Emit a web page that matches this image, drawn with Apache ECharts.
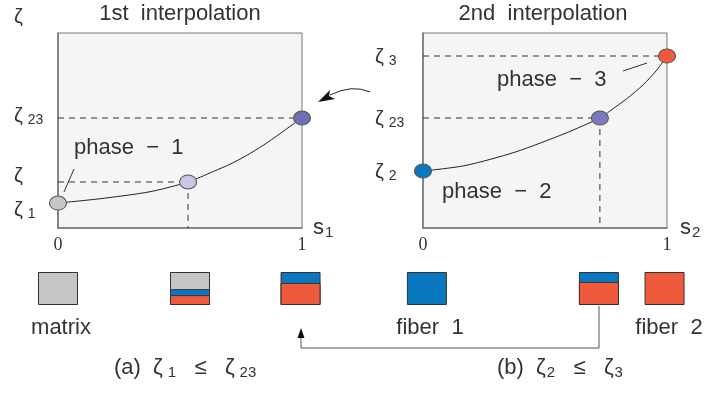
<!DOCTYPE html>
<html style="height: 100%">
<head>
    <meta charset="utf-8">
</head>
<body style="height: 100%; margin: 0; background: #fff">
    <div id="container" style="width: 705px; height: 396px"></div>
    <script src="https://cdn.jsdelivr.net/npm/echarts@6.0.0/dist/echarts.min.js"></script>
    <script>
        // curves (s, zeta), both panels scaled 0..1
        const curve1 = [[0, 0.128], [0.172, 0.150], [0.377, 0.186], [0.533, 0.236], [0.637, 0.290], [0.705, 0.327], [0.773, 0.372], [0.841, 0.424], [0.91, 0.484], [0.964, 0.533], [1, 0.564]];
        const curve2 = [[0, 0.292], [0.172, 0.320], [0.377, 0.389], [0.582, 0.485], [0.725, 0.564], [0.766, 0.600], [0.835, 0.663], [0.903, 0.735], [0.958, 0.810], [1, 0.882]];

        // marked points: [s, zeta]
        const points1 = [[0, 0.128], [0.533, 0.236], [1, 0.564]];
        const points1Colors = ['#c6c6c8', '#c9c7e5', '#6f6fb6'];
        const points2 = [[0, 0.292], [0.725, 0.564], [1, 0.882]];
        const points2Colors = ['#0a78c0', '#7a7abd', '#f05a3c'];

        // zeta labels on the left of each panel
        const zeta1At = [0.574, 0.262, 0.092];
        const zeta1Sub = ['23', '', '1'];
        const zeta2At = [0.877, 0.559, 0.287];
        const zeta2Sub = ['3', '23', '2'];
        const sTicks = [0, 1];

        // material squares under each panel: position on s, shares red / blue / grey (bottom to top)
        const squares1X = [0, 0.541, 0.994];
        const squares1Red = [0, 0.3, 0.67];
        const squares1Blue = [0, 0.18, 0.33];
        const squares1Grey = [1, 0.52, 0];
        const squares2X = [0.016, 0.721, 0.99];
        const squares2Red = [0, 0.7, 1];
        const squares2Blue = [1, 0.3, 0];
        const squares2Grey = [0, 0, 0];

        const font = 'Liberation Sans';
        const ink = '#333';

        const dom = document.getElementById('container');
        const myChart = echarts.init(dom);

        const zetaRich = {
            z: { fontSize: 20, fontFamily: font, color: ink },
            s: { fontSize: 14, fontFamily: font, color: ink, padding: [9, 0, 0, 5] }
        };
        const zetaFormatter = (at, sub) => value => {
            const i = at.findIndex(v => Math.abs(v - value) < 1e-6);
            if (i < 0) return '';
            return sub[i] ? '{z|ζ}{s|' + sub[i] + '}' : '{z|ζ}';
        };

        function panelX(gridIndex, sub, gap) {
            return {
                type: 'value', gridIndex: gridIndex, min: 0, max: 1, interval: 1,
                splitLine: { show: false },
                axisTick: { show: false },
                axisLine: { show: true, lineStyle: { color: '#777', width: 1.5 } },
                axisLabel: { margin: 8, color: ink, fontFamily: 'Liberation Serif', fontSize: 18, customValues: sTicks },
                name: '{a|s}{b|' + sub + '}',
                nameLocation: 'end',
                nameGap: gap,
                nameTextStyle: {
                    rich: {
                        a: { fontSize: 22, fontFamily: font, color: ink },
                        b: { fontSize: 15, fontFamily: font, color: ink, padding: [10, 0, 0, 1] }
                    }
                }
            };
        }
        function panelY(gridIndex, at, sub, margin) {
            return {
                type: 'value', gridIndex: gridIndex, min: 0, max: 1,
                splitLine: { show: false },
                axisTick: { show: false },
                axisLine: { show: true, lineStyle: { color: '#777', width: 1.5 } },
                axisLabel: {
                    customValues: at, align: 'left', margin: margin,
                    formatter: zetaFormatter(at, sub), rich: zetaRich
                }
            };
        }
        function hiddenAxis(gridIndex) {
            return { type: 'value', gridIndex: gridIndex, min: 0, max: 1, show: false };
        }
        const dashed = { color: ink, width: 1, type: [6, 5] };
        function dashSeries(xi, data) {
            return { type: 'line', xAxisIndex: xi, yAxisIndex: xi, data: data, symbol: 'none', lineStyle: dashed, silent: true, z: 2 };
        }
        function pointSeries(xi, data, colors) {
            return {
                type: 'scatter', xAxisIndex: xi, yAxisIndex: xi, symbolSize: [17, 14], clip: false, z: 5,
                data: data.map((d, i) => ({ value: d, itemStyle: { color: colors[i] } })),
                itemStyle: { borderColor: '#555', borderWidth: 1, opacity: 1 }
            };
        }
        // squares: overlapping bars, each drawn up to the top of its layer
        function squareSeries(xi, xs, layers, colors) {
            const out = [];
            for (let k = layers.length - 1; k >= 0; k--) {
                const data = [];
                xs.forEach((x, i) => {
                    let top = 0;
                    for (let j = 0; j <= k; j++) top += layers[j][i];
                    data.push(layers[k][i] > 0 ? [x, top] : [x, '-']);
                });
                out.push({
                    type: 'bar', xAxisIndex: xi, yAxisIndex: xi, barWidth: 40, barGap: '-100%', clip: false,
                    data: data,
                    itemStyle: { color: colors[k], borderColor: '#333', borderWidth: 1 }
                });
            }
            return out;
        }
        const layerColors = ['#f05a3c', '#0a78c0', '#c6c6c8'];

        const option = {
            animation: false,
            textStyle: { fontFamily: font, color: ink },
            grid: [
                { left: 58, top: 33, width: 244, height: 195, show: true, backgroundColor: '#f5f5f5', borderColor: '#777', borderWidth: 1 },
                { left: 423, top: 33, width: 244, height: 195, show: true, backgroundColor: '#f5f5f5', borderColor: '#777', borderWidth: 1 },
                { left: 58, top: 272, width: 244, height: 33 },
                { left: 423, top: 272, width: 244, height: 33 }
            ],
            xAxis: [panelX(0, '1', 11), panelX(1, '2', 13), hiddenAxis(2), hiddenAxis(3)],
            yAxis: [panelY(0, zeta1At, zeta1Sub, 44), panelY(1, zeta2At, zeta2Sub, 48), hiddenAxis(2), hiddenAxis(3)],
            series: [
                dashSeries(0, [[0, points1[2][1]], [1, points1[2][1]]]),
                dashSeries(0, [[0, points1[1][1]], [points1[1][0], points1[1][1]]]),
                dashSeries(0, [[points1[1][0], points1[1][1]], [points1[1][0], 0]]),
                dashSeries(1, [[0, points2[2][1]], [1, points2[2][1]]]),
                dashSeries(1, [[0, points2[1][1]], [points2[1][0], points2[1][1]]]),
                dashSeries(1, [[points2[1][0], points2[1][1]], [points2[1][0], 0]]),
                { type: 'line', xAxisIndex: 0, yAxisIndex: 0, data: curve1, smooth: 0.25, symbol: 'none', lineStyle: { color: '#222', width: 1 }, z: 3 },
                { type: 'line', xAxisIndex: 1, yAxisIndex: 1, data: curve2, smooth: 0.25, symbol: 'none', lineStyle: { color: '#222', width: 1 }, z: 3 },
                pointSeries(0, points1, points1Colors),
                pointSeries(1, points2, points2Colors),
                ...squareSeries(2, squares1X, [squares1Red, squares1Blue, squares1Grey], layerColors),
                ...squareSeries(3, squares2X, [squares2Red, squares2Blue, squares2Grey], layerColors)
            ],
            graphic: [
                { type: 'text', style: { text: '1st  interpolation', x: 180, y: 14, align: 'center', verticalAlign: 'middle', fontSize: 22, fontFamily: font, fill: ink } },
                { type: 'text', style: { text: '2nd  interpolation', x: 543, y: 14, align: 'center', verticalAlign: 'middle', fontSize: 22, fontFamily: font, fill: ink } },
                { type: 'text', style: { text: 'ζ', x: 14, y: 17, align: 'left', verticalAlign: 'middle', fontSize: 20, fontFamily: font, fill: ink } },
                { type: 'text', style: { text: 'phase  −  1', x: 74, y: 148, align: 'left', verticalAlign: 'middle', fontSize: 22, fontFamily: font, fill: ink } },
                { type: 'text', style: { text: 'phase  −  3', x: 497, y: 80, align: 'left', verticalAlign: 'middle', fontSize: 22, fontFamily: font, fill: ink } },
                { type: 'text', style: { text: 'phase  −  2', x: 442, y: 192, align: 'left', verticalAlign: 'middle', fontSize: 22, fontFamily: font, fill: ink } },
                { type: 'line', shape: { x1: 64, y1: 192, x2: 74, y2: 169 }, style: { stroke: ink, lineWidth: 1 } },
                { type: 'line', shape: { x1: 623, y1: 71, x2: 647, y2: 63 }, style: { stroke: ink, lineWidth: 1 } },
                { type: 'bezierCurve', shape: { x1: 370, y1: 92, cpx1: 352, cpy1: 84, x2: 330, y2: 95 }, style: { stroke: '#222', lineWidth: 1, fill: null } },
                { type: 'polygon', shape: { points: [[318, 102], [330, 90], [329, 96], [335, 99]] }, style: { fill: '#111' } },
                { type: 'text', style: { text: 'matrix', x: 61, y: 328, align: 'center', verticalAlign: 'middle', fontSize: 22, fontFamily: font, fill: ink } },
                { type: 'text', style: { text: 'fiber  1', x: 430, y: 328, align: 'center', verticalAlign: 'middle', fontSize: 22, fontFamily: font, fill: ink } },
                { type: 'text', style: { text: 'fiber  2', x: 669, y: 328, align: 'center', verticalAlign: 'middle', fontSize: 22, fontFamily: font, fill: ink } },
                { type: 'polyline', shape: { points: [[599, 306], [599, 348], [301, 348], [301, 334]] }, style: { stroke: '#555', lineWidth: 1, fill: null } },
                { type: 'polygon', shape: { points: [[301, 328], [297.5, 338], [304.5, 338]] }, style: { fill: '#111' } },
                {
                    type: 'text', style: {
                        text: '(a)  {z|ζ}{s|1}   ≤   {z|ζ}{s|23}', x: 114, y: 368, align: 'left', verticalAlign: 'middle', fontSize: 22, fontFamily: font, fill: ink,
                        rich: { z: { fontSize: 22, fontFamily: font, fill: ink }, s: { fontSize: 15, fontFamily: font, fill: ink, padding: [10, 0, 0, 5] } }
                    }
                },
                {
                    type: 'text', style: {
                        text: '(b)  {z|ζ}{s|2}   ≤   {z|ζ}{s|3}', x: 497, y: 368, align: 'left', verticalAlign: 'middle', fontSize: 22, fontFamily: font, fill: ink,
                        rich: { z: { fontSize: 22, fontFamily: font, fill: ink }, s: { fontSize: 15, fontFamily: font, fill: ink, padding: [10, 0, 0, 1] } }
                    }
                }
            ]
        };

        myChart.setOption(option);
    </script>
</body>
</html>
